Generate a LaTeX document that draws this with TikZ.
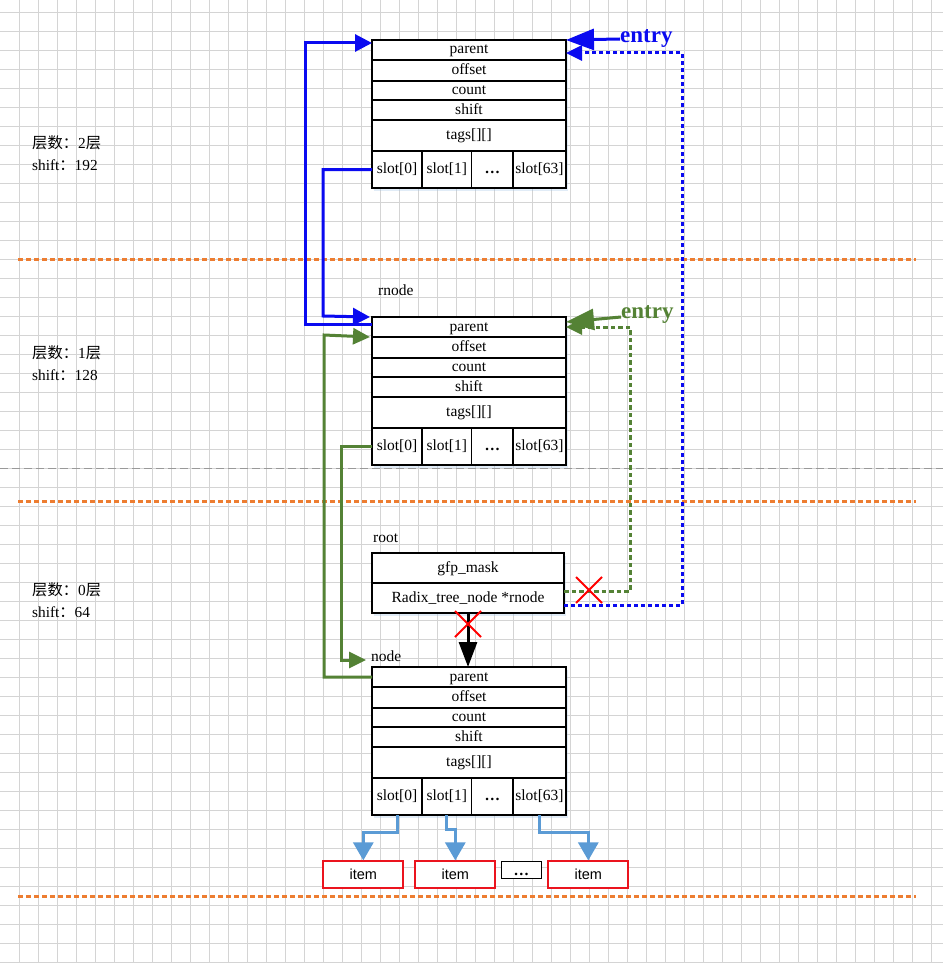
\documentclass[tikz,border=0pt]{standalone}
\usepackage{fontspec}
\setmainfont{Liberation Serif}
\newfontfamily\cjk{Noto Sans CJK SC}
\newfontfamily\itemfont{Liberation Sans}
\usetikzlibrary{arrows.meta,positioning,shapes.misc,shadows}
\definecolor{LinkBlue}  {RGB}{ 10, 10,240}
\definecolor{LinkGreen} {RGB}{ 84,130, 53}
\definecolor{SlotBlue}  {RGB}{ 91,155,213}
\definecolor{SepOrange} {RGB}{237,125, 49}
\definecolor{CutRed}    {RGB}{255,  0,  0}
\definecolor{ItemRed}   {RGB}{235, 20, 30}
\tikzset{
  %% 背景网格与分层线
  gridline/.style={draw=black!17,line width=0.7pt},
  levelsep/.style={draw=SepOrange,line width=3pt,dash pattern=on 5pt off 3pt},
  halfsep/.style={draw=black!40,line width=0.8pt,dash pattern=on 8pt off 4pt},
  %% radix_tree_node 字段框
  fld/.style={rectangle,draw=black,line width=1.1pt,fill=white,
              minimum width=194pt,inner sep=0pt,outer sep=0pt,anchor=north west,
              text height=10pt,text depth=2pt,
              font=\fontsize{15.5}{17}\selectfont,
              drop shadow={shadow xshift=2pt,shadow yshift=-2.5pt,
                           opacity=0.3,fill=SlotBlue!60}},
  slotc/.style={fld,minimum height=37pt},
  tag/.style={inner sep=1pt,font=\fontsize{15.5}{17}\selectfont},
  lvl/.style={inner sep=0pt,anchor=west,align=left,
              font=\fontsize{15.3}{22}\selectfont},
  entrylbl/.style={inner sep=0pt,anchor=west,
                   font=\fontsize{23}{25}\selectfont\bfseries},
  %% item 框
  itembox/.style={rectangle,draw=ItemRed,line width=1.8pt,fill=white,
                  minimum width=80pt,minimum height=26.4pt,inner sep=0pt,
                  font=\fontsize{14.5}{16}\selectfont},
  dotbox/.style={rectangle,draw=black,line width=1pt,fill=white,
                 minimum width=40pt,minimum height=17pt,inner sep=0pt,
                 text height=11pt,text depth=0pt,
                 font=\fontsize{15.5}{17}\selectfont\bfseries},
  cut/.style={cross out,draw=CutRed,line width=2pt,minimum size=24pt,inner sep=0pt},
  %% 箭头
  blinkarr/.style={draw=LinkBlue,line width=3pt,-{Triangle[length=17pt,width=17pt]}},
  bdotarr/.style={draw=LinkBlue,line width=3pt,dash pattern=on 4pt off 3pt,
                  -{Triangle[length=16pt,width=15pt]}},
  glinkarr/.style={draw=LinkGreen,line width=3pt,-{Triangle[length=17pt,width=16pt]}},
  gdotarr/.style={draw=LinkGreen,line width=3pt,dash pattern=on 4.5pt off 3pt,
                  -{Triangle[length=16pt,width=15pt]}},
  entryarr/.style={line width=3pt,-{Triangle[length=28pt,width=21pt]}},
  slotarr/.style={draw=SlotBlue,line width=3pt,-{Triangle[length=18pt,width=20pt]}},
  ptrarr/.style={draw=black,line width=3pt,-{Triangle[length=25pt,width=18pt]}},
}
\begin{document}
\begin{tikzpicture}[x=1pt,y=-1pt]
    \fill[white] (0,0) rectangle (943,963);
    \useasboundingbox (0,0) rectangle (943,963);

    %% ── 背景网格 ─────────────────────────────────────
    \foreach \gx in {19,38,...,940}
      \draw[gridline] (\gx,0) -- (\gx,963);
    \foreach \gy in {12.7,31.7,...,963}
      \draw[gridline] (0,\gy) -- (943,\gy);

    %% ── 分层虚线 ─────────────────────────────────────
    \draw[levelsep] (18,259) -- (916,259);
    \draw[levelsep] (18,501) -- (916,501);
    \draw[levelsep] (18,896) -- (916,896);
    \draw[halfsep] (0,468) -- (943,468);

    %% ── item ─────────────────────────────────────────
    \node[itembox] (it0) at (363.3,874.5) {\itemfont item};
    \node[itembox] (it1) at (455.3,874.5) {\itemfont item};
    \node[itembox] (it63) at (588.3,874.5) {\itemfont item};
    \node[dotbox] (itdots) at (521.3,869.8) {\ldots};

    %% 左侧层数说明
    \node[lvl] (lv2) at (32,153) {{\cjk 层数：}2{\cjk 层}\\shift{\cjk ：}192};
    \node[lvl] (lv1) at (32,363) {{\cjk 层数：}1{\cjk 层}\\shift{\cjk ：}128};
    \node[lvl] (lv0) at (32,600) {{\cjk 层数：}0{\cjk 层}\\shift{\cjk ：}64};

    %% ── 三个 radix_tree_node ─────────────────────────
    \foreach \n/\y in {n2/40,n1/317,n0/667}{
      \node[fld,minimum height=20pt] (\n-parent) at (372,\y) {parent};
      \node[fld,minimum height=21pt] (\n-offset) at (\n-parent.south west) {offset};
      \node[fld,minimum height=19pt] (\n-count) at (\n-offset.south west) {count};
      \node[fld,minimum height=20pt] (\n-shift) at (\n-count.south west) {shift};
      \node[fld,minimum height=31pt] (\n-tags) at (\n-shift.south west) {tags[][]};
      \node[slotc,minimum width=50pt] (\n-s0) at (\n-tags.south west) {slot[0]};
      \node[slotc,minimum width=49.5pt] (\n-s1) at (\n-s0.north east) {slot[1]};
      \node[slotc,minimum width=41.5pt] (\n-s2) at (\n-s1.north east) {\textbf{\ldots}};
      \node[slotc,minimum width=53pt] (\n-s63) at (\n-s2.north east) {slot[63]};
    }

    %% root
    \node[fld,minimum width=192pt,minimum height=30pt] (root-gfp) at (372,553) {gfp\_mask};
    \node[fld,minimum width=192pt,minimum height=30pt] (root-ptr) at (root-gfp.south west)
      {Radix\_tree\_node *rnode};

    %% 框名
    \node[tag,anchor=south west,above right=20pt and 5pt of n1-parent.north west] (lbl-rnode) {rnode};
    \node[tag,anchor=south west,above right=9pt and 0pt of root-gfp.north west] (lbl-root) {root};
    \node[tag,anchor=south west,above right=4.5pt and -2pt of n0-parent.north west] (lbl-node) {node};

    %% entry
    \node[entrylbl,text=LinkBlue] (entry2) at (620,39) {entry};
    \node[entrylbl,text=LinkGreen] (entry1) at (621,315) {entry};

    %% ── 连线 ─────────────────────────────────────────
    \coordinate (bup1) at (323,316);
    \coordinate (bup2) at (305,43);
    \coordinate (gdn1) at (341,660);
    \coordinate (gdn2) at (324,335);
    \coordinate (nodein) at (366,660);
    \coordinate (bturn) at (682,53);
    \coordinate (gturn) at (630,327);

    \draw[blinkarr] (n2-s0.west) -| (bup1) -- ([xshift=-2pt]n1-parent.north west);
    \draw[blinkarr] ([yshift=3pt]n1-parent.west) -| (bup2) -- ([yshift=-3pt]n2-parent.north west);
    \draw[glinkarr] (n1-s0.west) -| (gdn1) -- (nodein);
    \draw[glinkarr] (n0-parent.west) -| (gdn2) -- ([xshift=-2pt]n1-offset.north west);

    \draw[bdotarr] ([yshift=-7pt]root-ptr.east) -| (bturn) -- ([yshift=-3pt]n2-parent.east);
    \draw[gdotarr] ([yshift=7pt]root-ptr.east) -| (gturn) -- (n1-parent.east);

    \draw[entryarr,draw=LinkBlue,fill=LinkBlue] ([yshift=0pt]entry2.west) -- (n2-parent.north east);
    \draw[entryarr,draw=LinkGreen,fill=LinkGreen] ([yshift=-2pt]entry1.west) -- ([yshift=5pt]n1-parent.east);

    \draw[ptrarr] (root-ptr.south) -- (root-ptr.south |- n0-parent.north);

    \draw[slotarr] (n0-s0.south) -- ++(0,17) -| (it0.north);
    \draw[slotarr] (n0-s1.south) -- ++(0,14) -| (it1.north);
    \draw[slotarr] (n0-s63.south) -- ++(0,17) -| (it63.north);

    %% 断开标记
    \node[cut] (cut1) at ([shift={(25pt,8pt)}]root-ptr.east) {};
    \node[cut] (cut2) at ([yshift=-11pt]root-ptr.south) {};
  \end{tikzpicture}
\end{document}
